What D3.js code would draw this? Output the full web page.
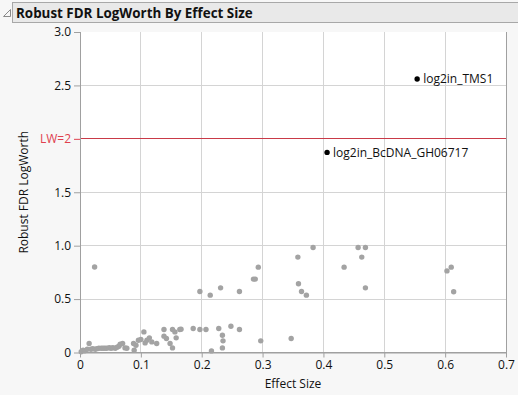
<!DOCTYPE html>
<html>
<head>
<meta charset="utf-8">
<script src="https://cdn.jsdelivr.net/npm/d3@7"></script>
<style>
  body { margin: 0; background: #f7f7f7; }
  svg { display: block; }
  text { font-family: "Open Sans", "Noto Sans", sans-serif; }
</style>
</head>
<body>
<svg id="chart" width="518" height="395"></svg>
<script>
// effect size / robust FDR logworth pairs
const effectSize = [
    0.002, 0.005, 0.008, 0.012, 0.015, 0.018, 0.021, 0.025, 0.028, 0.031,
    0.035, 0.038, 0.041, 0.044, 0.048, 0.051, 0.054, 0.058, 0.061, 0.064,
    0.066, 0.070, 0.074, 0.077, 0.024,
    0.088, 0.089, 0.092, 0.096, 0.100, 0.105, 0.107, 0.110, 0.114, 0.118,
    0.126, 0.138, 0.138, 0.142, 0.148, 0.152, 0.152, 0.156, 0.158, 0.164,
    0.166, 0.186, 0.197, 0.207, 0.216, 0.228, 0.234, 0.235, 0.234, 0.248,
    0.262, 0.297, 0.347,
    0.197, 0.214, 0.231, 0.262, 0.285, 0.288, 0.293, 0.358, 0.383, 0.359,
    0.364, 0.372, 0.434, 0.457, 0.469, 0.463, 0.469, 0.603, 0.610, 0.614
];
const logWorth = [
    0.007, 0.022, 0.017, 0.031, 0.084, 0.031, 0.036, 0.031, 0.036, 0.040,
    0.040, 0.040, 0.040, 0.040, 0.045, 0.040, 0.045, 0.040, 0.050, 0.059,
    0.078, 0.084, 0.043, 0.040, 0.800,
    0.084, 0.022, 0.068, 0.115, 0.122, 0.193, 0.090, 0.115, 0.137, 0.099,
    0.084, 0.215, 0.153, 0.131, 0.084, 0.043, 0.215, 0.193, 0.137, 0.215,
    0.218, 0.225, 0.215, 0.215, 0.015, 0.225, 0.162, 0.109, 0.043, 0.246,
    0.215, 0.109, 0.131,
    0.571, 0.537, 0.605, 0.571, 0.687, 0.687, 0.799, 0.893, 0.983, 0.643,
    0.571, 0.537, 0.799, 0.983, 0.983, 0.893, 0.605, 0.764, 0.799, 0.568
];

// the two labelled hits above the threshold
const hitNames = ["log2in_TMS1", "log2in_BcDNA_GH06717"];
const hitEffect = [0.554, 0.406];
const hitLogWorth = [2.56, 1.873];

const xTicks = [0, 0.1, 0.2, 0.3, 0.4, 0.5, 0.6, 0.7];
const yTicks = [0, 0.5, 1.0, 1.5, 2.0, 2.5, 3.0];
const threshold = 2;

const svg = d3.select("#chart");
const pLeft = 80, pRight = 506, pTop = 32, pBottom = 352.5;

const x = d3.scaleLinear().domain([0, 0.7]).range([pLeft, pRight]);
const y = d3.scaleLinear().domain([0, 3]).range([pBottom, pTop]);

// title bar
svg.append("rect")
    .attr("x", 12.5).attr("y", 2.5).attr("width", 510).attr("height", 20)
    .attr("fill", "#e9e9e9").attr("stroke", "#a8a8a8");
svg.append("path")
    .attr("d", "M3.5,16.5 L10.5,16.5 L10.5,9.5 Z")
    .attr("fill", "none").attr("stroke", "#8a8a8a");
svg.append("text")
    .attr("x", 16).attr("y", 18)
    .attr("font-size", 13.4).attr("font-weight", "bold").attr("fill", "#111")
    .text("Robust FDR LogWorth By Effect Size");

// plot area
svg.append("rect")
    .attr("x", pLeft).attr("y", pTop).attr("width", pRight - pLeft).attr("height", pBottom - pTop)
    .attr("fill", "#fff");

const grid = svg.append("g").attr("stroke", "#d4d4d4").attr("shape-rendering", "crispEdges");
grid.selectAll(".gx").data(xTicks.slice(1, -1)).enter().append("line")
    .attr("x1", d => x(d)).attr("x2", d => x(d)).attr("y1", pTop).attr("y2", pBottom);
grid.selectAll(".gy").data(yTicks.filter(d => d > 0 && d < 3 && d !== threshold)).enter().append("line")
    .attr("y1", d => y(d)).attr("y2", d => y(d)).attr("x1", pLeft).attr("x2", pRight);

// threshold line
svg.append("line")
    .attr("x1", pLeft).attr("x2", pRight).attr("y1", y(threshold)).attr("y2", y(threshold))
    .attr("stroke", "#c93a48").attr("stroke-width", 1).attr("shape-rendering", "crispEdges");

// frame
svg.append("path")
    .attr("d", `M${pLeft},${pTop} V${pBottom} H${pRight} V${pTop}`)
    .attr("fill", "none").attr("stroke", "#a0a0a0").attr("shape-rendering", "crispEdges");

// axes
const xAxis = svg.append("g")
    .attr("transform", `translate(0,${pBottom})`)
    .call(d3.axisBottom(x).tickValues(xTicks).tickFormat(d => d === 0 ? "0" : d3.format(".1f")(d)).tickSize(5).tickSizeOuter(0));
const yAxis = svg.append("g")
    .attr("transform", `translate(${pLeft},0)`)
    .call(d3.axisLeft(y).tickValues(yTicks)
        .tickFormat(d => d === 0 ? "0" : d === threshold ? "LW=2" : d3.format(".1f")(d))
        .tickSize(6).tickSizeOuter(0));
[xAxis, yAxis].forEach(a => {
    a.select(".domain").attr("stroke", "#a0a0a0");
    a.selectAll(".tick line").attr("stroke", "#a0a0a0");
    a.selectAll("text").attr("font-family", "\"Open Sans\", sans-serif").attr("font-size", 12).attr("fill", "#111");
});
xAxis.selectAll("text").attr("dy", "0.95em").attr("y", 5);
yAxis.selectAll(".tick").filter(d => d === threshold).select("text").attr("fill", "#e0404f");
yAxis.selectAll(".tick").filter(d => d === threshold).select("line").attr("stroke", "#e0404f");

// axis titles
svg.append("text")
    .attr("x", (pLeft + pRight) / 2).attr("y", 388)
    .attr("text-anchor", "middle").attr("font-size", 12).attr("fill", "#111")
    .text("Effect Size");
svg.append("text")
    .attr("transform", `translate(28,${(pTop + pBottom) / 2}) rotate(-90)`)
    .attr("text-anchor", "middle").attr("font-size", 12).attr("fill", "#111")
    .text("Robust FDR LogWorth");

// points
const points = effectSize.map((e, i) => ({ e, lw: logWorth[i] }));
svg.append("g").selectAll("circle").data(points).enter().append("circle")
    .attr("cx", d => x(d.e)).attr("cy", d => y(d.lw)).attr("r", 2.7)
    .attr("fill", "#a3a3a3");

const hits = hitNames.map((n, i) => ({ n, e: hitEffect[i], lw: hitLogWorth[i] }));
const hg = svg.append("g").selectAll("g").data(hits).enter().append("g")
    .attr("transform", d => `translate(${x(d.e)},${y(d.lw)})`);
hg.append("circle").attr("r", 2.7).attr("fill", "#000");
hg.append("text").attr("x", 6).attr("dy", "0.35em")
    .attr("font-size", 12).attr("fill", "#111")
    .text(d => d.n);
</script>
</body>
</html>
